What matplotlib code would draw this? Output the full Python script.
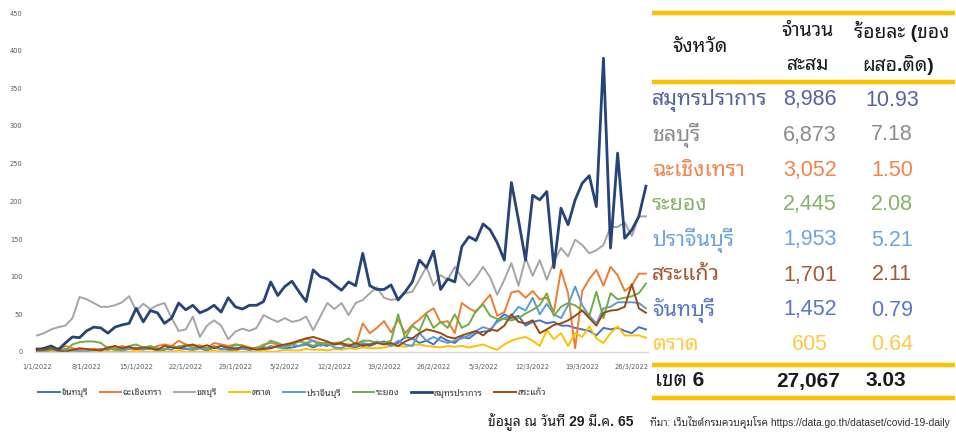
import matplotlib
matplotlib.use("Agg")
import matplotlib.pyplot as plt
import matplotlib.dates as mdates
from matplotlib import font_manager
from matplotlib.lines import Line2D
import pandas as pd

# ---- fonts: Latin from Liberation Sans, Thai from whatever Thai family is installed
names = {f.name for f in font_manager.fontManager.ttflist}
thai_font = next((n for n in ['Noto Sans Thai Looped', 'IBM Plex Sans Thai Looped',
                              'Sarabun', 'Noto Sans Thai'] if n in names), 'DejaVu Sans')
TXT = ['Liberation Sans', thai_font, 'DejaVu Sans']

# ---- data: daily new cases 1/1/2022 - 28/3/2022
dates = pd.date_range('2022-01-01', periods=87, freq='D')

chanthaburi = [5, 3, 2, 0, 4, 2, 3, 1, 2, 4, 3, 5, 2, 6, 3, 4, 5, 2, 3, 8,
               5, 4, 3, 5, 2, 6, 4, 3, 2, 5, 3, 4, 6, 5, 8, 5, 6, 8, 10, 6,
               10, 8, 12, 10, 8, 6, 10, 8, 12, 14, 10, 12, 20, 18, 12, 15, 10, 20, 15, 12,
               20, 18, 25, 27, 28, 42, 50, 45, 48, 35, 40, 42, 38, 40, 35, 35, 32, 30, 28, 22,
               32, 30, 32, 28, 25, 33, 30]
chachoengsao = [0, 5, 3, 2, 8, 5, 3, 2, 4, 3, 6, 5, 8, 5, 3, 6, 4, 8, 10, 8,
                15, 10, 8, 9, 5, 12, 10, 8, 10, 9, 6, 5, 10, 12, 10, 8, 12, 15, 18, 15,
                12, 12, 10, 11, 10, 8, 38, 25, 32, 41, 26, 43, 25, 36, 43, 52, 58, 39, 41, 25,
                65, 58, 53, 65, 76, 48, 53, 79, 81, 72, 81, 70, 72, 53, 109, 78, 5, 81, 97, 109,
                88, 113, 102, 81, 88, 104, 104]
chonburi = [22, 25, 30, 33, 35, 45, 73, 70, 65, 60, 60, 62, 66, 74, 55, 64, 57, 62, 65, 45,
            28, 30, 47, 20, 35, 42, 35, 17, 27, 31, 28, 32, 49, 44, 40, 45, 40, 42, 47, 29,
            47, 65, 57, 65, 49, 65, 69, 78, 86, 72, 69, 71, 78, 80, 96, 113, 88, 102, 96, 113,
            99, 88, 99, 113, 99, 76, 96, 118, 88, 125, 101, 122, 96, 120, 138, 127, 149, 142, 131, 135,
            142, 166, 166, 172, 154, 180, 180]
trat = [0, 0, 2, 0, 1, 0, 0, 2, 0, 1, 0, 0, 1, 0, 2, 0, 0, 1, 0, 0,
        2, 0, 1, 0, 0, 2, 0, 0, 1, 0, 0, 0, 2, 0, 1, 3, 2, 2, 4, 3,
        3, 2, 4, 3, 5, 4, 6, 5, 5, 6, 8, 8, 7, 9, 10, 8, 7, 6, 8, 7,
        8, 6, 8, 10, 6, 3, 10, 15, 18, 20, 15, 8, 29, 17, 25, 8, 25, 20, 34, 18,
        12, 25, 34, 22, 22, 22, 19]
prachinburi = [0, 2, 5, 0, 3, 2, 0, 1, 3, 2, 5, 3, 2, 4, 6, 3, 5, 2, 4, 3,
               8, 5, 3, 6, 4, 8, 3, 5, 6, 4, 3, 5, 4, 8, 6, 5, 10, 8, 12, 15,
               8, 12, 6, 5, 10, 8, 12, 10, 14, 12, 8, 15, 10, 8, 25, 15, 20, 15, 12, 15,
               18, 22, 28, 33, 30, 40, 45, 48, 60, 55, 72, 50, 64, 50, 45, 62, 87, 62, 48, 38,
               58, 60, 66, 66, 66, 65, 58]
rayong = [2, 0, 3, 5, 2, 10, 13, 14, 14, 12, 5, 3, 5, 8, 10, 6, 8, 5, 3, 8,
          6, 10, 5, 8, 3, 6, 8, 5, 10, 8, 4, 6, 8, 15, 12, 8, 10, 14, 12, 8,
          12, 10, 12, 13, 18, 10, 15, 15, 12, 12, 15, 50, 18, 35, 28, 50, 32, 40, 32, 50,
          32, 37, 55, 63, 48, 44, 44, 42, 45, 51, 56, 62, 78, 48, 60, 65, 62, 55, 48, 80,
          45, 78, 70, 72, 74, 78, 91]
samut_prakan = [3, 5, 8, 3, 12, 20, 19, 28, 33, 32, 25, 33, 36, 38, 58, 40, 55, 52, 38, 45,
                65, 56, 62, 52, 56, 62, 53, 72, 60, 57, 62, 62, 67, 93, 75, 87, 94, 80, 67, 109,
                100, 97, 89, 82, 93, 88, 131, 88, 83, 83, 89, 69, 80, 93, 122, 112, 134, 83, 97, 93,
                140, 153, 148, 170, 162, 145, 122, 225, 175, 122, 208, 202, 213, 112, 191, 169, 202, 224, 234, 193,
                390, 138, 264, 151, 162, 180, 220]
sa_kaeo = [2, 3, 5, 2, 0, 3, 5, 4, 3, 2, 6, 8, 5, 7, 4, 6, 5, 3, 8, 6,
           5, 8, 10, 6, 9, 5, 8, 6, 4, 7, 5, 3, 4, 5, 8, 10, 12, 15, 18, 20,
           17, 14, 10, 12, 8, 12, 8, 10, 12, 10, 12, 8, 14, 18, 25, 30, 28, 25, 20, 18,
           22, 25, 28, 22, 30, 28, 35, 50, 40, 38, 42, 25, 30, 36, 38, 42, 48, 55, 45, 35,
           52, 55, 56, 60, 90, 58, 52]

series_names = ['จันทบุรี', 'ฉะเชิงเทรา', 'ชลบุรี', 'ตราด', 'ปราจีนบุรี', 'ระยอง', 'สมุทรปราการ', 'สระแก้ว']
series_data = [chanthaburi, chachoengsao, chonburi, trat, prachinburi, rayong, samut_prakan, sa_kaeo]
series_colors = ['#4472C4', '#ED7D31', '#A5A5A5', '#FFC000', '#5B9BD5', '#70AD47', '#264478', '#9E480E']

# ---- table data
table_prov = ['สมุทรปราการ', 'ชลบุรี', 'ฉะเชิงเทรา', 'ระยอง', 'ปราจีนบุรี', 'สระแก้ว', 'จันทบุรี', 'ตราด']
table_total = ['8,986', '6,873', '3,052', '2,445', '1,953', '1,701', '1,452', '605']
table_pct = ['10.93', '7.18', '1.50', '2.08', '5.21', '2.11', '0.79', '0.64']
table_colors = ['#56639F', '#8C8C8C', '#F0844A', '#86B36A', '#6FA3DE', '#A35A33', '#5877C6', '#FFC94A']
zone_label, zone_total, zone_pct = 'เขต 6', '27,067', '3.03'

W, H = 956, 432
fig = plt.figure(figsize=(W / 100, H / 100), dpi=100)

def fx(x):
    return x / W

def fy(y):
    return 1 - y / H

# ---- line chart
ax = fig.add_axes([fx(35), fy(352), 613 / W, 339 / H])
for name, vals, col in zip(series_names, series_data, series_colors):
    lw = 2.0 if name == 'สมุทรปราการ' else 1.4
    ax.plot(dates, vals, color=col, lw=lw, label=name, solid_joinstyle='round')

ax.set_ylim(0, 450)
ax.set_yticks(range(0, 451, 50))
ax.set_xlim(dates[0] - pd.Timedelta(hours=7), dates[-1] + pd.Timedelta(hours=7))
ax.set_xticks(dates[::7])
ax.xaxis.set_major_formatter(plt.FuncFormatter(
    lambda v, p: (lambda d: f'{d.day}/{d.month}/{d.year}')(mdates.num2date(v))))
for s in ['top', 'right', 'left']:
    ax.spines[s].set_visible(False)
ax.spines['bottom'].set_color('#D9D9D9')
ax.spines['bottom'].set_linewidth(1.0)
ax.tick_params(axis='both', length=0, labelsize=4.8, colors='#595959')
ax.tick_params(axis='y', pad=9)
ax.tick_params(axis='x', pad=9)

leg = fig.legend(loc='center', bbox_to_anchor=(fx(292), fy(393)), ncol=8, frameon=False,
                 handlelength=2.4, handletextpad=0.15, columnspacing=1.3,
                 prop={'family': TXT, 'size': 6.5, 'weight': 'bold'})
for t in leg.get_texts():
    t.set_color('#333333')

# ---- table on the right
yellow = '#FFC000'
for yy in [13, 82, 365, 398]:
    fig.add_artist(Line2D([fx(652), fx(955)], [fy(yy), fy(yy)], transform=fig.transFigure,
                          color=yellow, lw=3.2, solid_capstyle='butt'))

hdr = dict(family=TXT, fontsize=14, weight='bold', color='#1a1a1a', va='center')
fig.text(fx(700), fy(48), 'จังหวัด', ha='center', **hdr)
fig.text(fx(808), fy(31), 'จำนวน', ha='center', **hdr)
fig.text(fx(808), fy(65), 'สะสม', ha='center', **hdr)
fig.text(fx(902), fy(31), 'ร้อยละ (ของ', ha='center', **hdr)
fig.text(fx(898), fy(65), 'ผสอ.ติด)', ha='center', **hdr)

row_y0, row_dy = 100, 35.0
for i, (prov, tot, pct, col) in enumerate(zip(table_prov, table_total, table_pct, table_colors)):
    yy = fy(row_y0 + i * row_dy)
    fig.text(fx(652), yy, prov, ha='left', va='center', family=TXT, fontsize=15.5, color=col)
    fig.text(fx(810), yy, tot, ha='center', va='center', family=TXT, fontsize=15.5, color=col)
    fig.text(fx(892), yy, pct, ha='center', va='center', family=TXT, fontsize=15.5, color=col)

tot_kw = dict(family=TXT, fontsize=15, weight='bold', color='#1a1a1a', va='center')
fig.text(fx(655), fy(381), zone_label, ha='left', **tot_kw)
fig.text(fx(808), fy(381), zone_total, ha='center', **tot_kw)
fig.text(fx(886), fy(381), zone_pct, ha='center', **tot_kw)

# ---- footnote
fig.text(fx(488), fy(422), 'ข้อมูล ณ วันที่ 29 มี.ค. 65', ha='left', va='center',
         family=TXT, fontsize=10, weight='bold', color='#222222')
fig.text(fx(950), fy(422), 'ที่มา: เว็บไซต์กรมควบคุมโรค https://data.go.th/dataset/covid-19-daily',
         ha='right', va='center', family=TXT, fontsize=7.4, color='#333333')

fig.savefig('out.png', dpi=100)
